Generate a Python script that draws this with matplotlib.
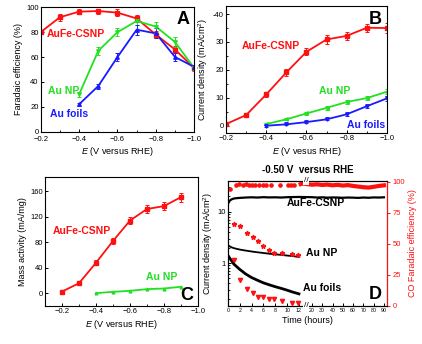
import numpy as np
import matplotlib
matplotlib.use("Agg")
import matplotlib.pyplot as plt
import matplotlib.transforms as mtransforms
from matplotlib.ticker import FixedLocator, NullFormatter, LogLocator

plt.rcParams['font.family'] = ['Liberation Sans', 'DejaVu Sans']
plt.rcParams['mathtext.fontset'] = 'custom'
plt.rcParams['mathtext.it'] = 'Liberation Sans:italic'
plt.rcParams['mathtext.rm'] = 'Liberation Sans'

RED = '#ff1010'
GREEN = '#22e022'
BLUE = '#1a1aff'

# ---- panel A: faradaic efficiency ----
E_a = [-0.2, -0.3, -0.4, -0.5, -0.6, -0.7, -0.8, -0.9, -1.0]
fe_aufe = [80, 92, 96.5, 97, 95.7, 91, 78, 66, 51]
fe_aufe_err = [0, 3, 2, 2, 3, 3, 3, 3, 2]
E_a2 = [-0.4, -0.5, -0.6, -0.7, -0.8, -0.9, -1.0]
fe_aunp = [30, 65, 80, 89, 84.5, 72, 51]
fe_aunp_err = [2, 3, 3, 3, 4, 4, 2]
fe_aufoil = [22, 36.7, 60, 82, 79, 60, 52]
fe_aufoil_err = [1, 2, 3, 4, 4, 3, 2]

# ---- panel B: current density ----
E_b = [-0.2, -0.3, -0.4, -0.5, -0.6, -0.7, -0.8, -0.9, -1.0]
j_aufe = [0.6, 3.8, 11.2, 19.1, 26.5, 30.9, 32.2, 35.1, 35.0]
j_aufe_err = [0.4, 0.6, 1.0, 1.2, 1.2, 1.5, 1.5, 1.5, 1.8]
E_b2 = [-0.4, -0.5, -0.6, -0.7, -0.8, -0.9, -1.0]
j_aunp = [0.6, 2.3, 4.4, 6.4, 8.5, 9.9, 12.2]
j_aunp_err = [0.3, 0.4, 0.5, 0.6, 0.8, 0.8, 1.0]
j_aufoil = [0.0, 0.5, 1.3, 2.3, 4.1, 7.0, 9.8]
j_aufoil_err = [0.3, 0.3, 0.4, 0.4, 0.5, 0.6, 0.9]
b_ticks = [0, 10, 20, 30, 40]
b_ticklabels = ['0', '10', '20', '30', '-40']

# ---- panel C: mass activity ----
E_c = [-0.2, -0.3, -0.4, -0.5, -0.6, -0.7, -0.8, -0.9]
ma_aufe = [3, 16, 48, 82, 114, 132, 136.5, 150.6]
ma_aufe_err = [1, 2, 4, 4, 5, 6, 6, 7]
E_c2 = [-0.4, -0.5, -0.6, -0.7, -0.8, -0.9]
ma_aunp = [0.5, 2.6, 4.2, 6.8, 7.8, 10.5]

# ---- panel D: stability at -0.50 V ----
t_aufe = [0, 0.3, 0.6, 1, 1.5, 2, 3, 4, 5, 6, 7, 8, 9, 10, 11, 12,
          20, 25, 30, 35, 40, 45, 50, 55, 60, 65, 70, 75, 80, 85, 90]
jd_aufe = [14.5, 16.5, 17.5, 18.2, 18.5, 18.7, 19.0, 19.2, 19.0, 19.3, 19.1, 19.2, 19.0, 19.3, 19.4, 19.5,
           19.3, 19.0, 19.2, 18.9, 19.1, 19.0, 18.8, 19.0, 18.9, 18.7, 19.0, 18.8, 19.1, 19.0, 19.2]
t_np = [0, 0.5, 1, 2, 3, 4, 5, 6, 7, 8, 9, 10, 11, 12]
jd_aunp = [2.22, 2.05, 1.95, 1.83, 1.75, 1.68, 1.62, 1.57, 1.52, 1.48, 1.44, 1.40, 1.36, 1.32]
jd_aufoil = [1.4, 1.15, 0.95, 0.75, 0.61, 0.52, 0.46, 0.41, 0.375, 0.345, 0.32, 0.295, 0.27, 0.25]

tf_aufe = [0.33, 1.35, 1.9, 2.5, 3.0, 3.5, 4.0, 4.6, 5.2, 5.85, 6.4, 7.3, 8.8, 10.2, 10.6, 11.2]
fe_d_aufe = [94.4, 97.3, 97.9, 97.6, 97.9, 97.6, 97.3, 97.6, 97.3, 97.1, 97.3, 97.1, 97.1, 97.1, 97.3, 97.6]
tf_aufe2 = [12.3, 12.8, 20, 25, 30, 35, 40, 45, 50, 55, 60, 65, 70, 75, 80, 85, 90]
fe_d_aufe2 = [98, 98.5, 97.5, 97.8, 97.3, 97.6, 97.0, 97.4, 96.8, 97.2, 96.5, 96.0, 95.5, 95.2, 95.8, 96.5, 97.0]
tf_np = [1.06, 2.08, 3.2, 4.17, 5.1, 5.86, 6.98, 7.8, 9.2, 10.9, 11.9]
fe_d_aunp = [65.8, 64, 58.6, 55.4, 52, 48, 45.4, 42.6, 42.2, 41.4, 40.8]
fe_d_aufoil = [36.6, 20.6, 13.4, 10.6, 7.2, 7.2, 5.8, 5.4, 4.0, 2.6, 2.2]

fig = plt.figure(figsize=(4.22, 3.44), dpi=100)

lab_fs = 6.5
tick_fs = 5.5
ser_fs = 7.5


def style(ax):
    ax.tick_params(direction='in', labelsize=tick_fs, length=2.5, width=0.7, pad=1.5)
    ax.tick_params(which='minor', direction='in', length=1.5, width=0.6)
    for s in ax.spines.values():
        s.set_linewidth(0.8)


def series(ax, x, y, err, color, marker):
    ax.plot(x, y, color=color, lw=1.3)
    ax.errorbar(x, y, yerr=err, fmt=marker, color=color, ms=2.5, elinewidth=0.7,
                capsize=1.2, capthick=0.7)


# A
axA = fig.add_axes([0.0964, 0.6172, 0.364, 0.3616])
series(axA, E_a, fe_aufe, fe_aufe_err, RED, 's')
series(axA, E_a2, fe_aunp, fe_aunp_err, GREEN, 'v')
series(axA, E_a2, fe_aufoil, fe_aufoil_err, BLUE, '^')
axA.set_xlim(-0.2, -1.0)
axA.set_ylim(0, 100)
axA.set_xticks([-0.2, -0.4, -0.6, -0.8, -1.0])
axA.xaxis.set_minor_locator(FixedLocator([-0.3, -0.5, -0.7, -0.9]))
axA.set_yticks([0, 20, 40, 60, 80, 100])
axA.set_xlabel('$E$ (V versus RHE)', fontsize=lab_fs, labelpad=2)
axA.set_ylabel('Faradaic efficiency (%)', fontsize=lab_fs, labelpad=2)
style(axA)
axA.tick_params(axis='x', pad=2.8)
axA.text(0.04, 0.76, 'AuFe-CSNP', color=RED, fontsize=ser_fs, fontweight='bold', transform=axA.transAxes)
axA.text(0.05, 0.30, 'Au NP', color=GREEN, fontsize=ser_fs, fontweight='bold', transform=axA.transAxes)
axA.text(0.06, 0.12, 'Au foils', color=BLUE, fontsize=ser_fs, fontweight='bold', transform=axA.transAxes)
axA.text(0.97, 0.97, 'A', fontsize=13, fontweight='bold', ha='right', va='top', transform=axA.transAxes)

# B
axB = fig.add_axes([0.5355, 0.6134, 0.3815, 0.370])
series(axB, E_b, j_aufe, j_aufe_err, RED, 's')
series(axB, E_b2, j_aunp, j_aunp_err, GREEN, '<')
series(axB, E_b2, j_aufoil, j_aufoil_err, BLUE, 'v')
axB.set_xlim(-0.2, -1.0)
axB.set_ylim(-2.6, 43)
axB.set_xticks([-0.2, -0.4, -0.6, -0.8, -1.0])
axB.xaxis.set_minor_locator(FixedLocator([-0.3, -0.5, -0.7, -0.9]))
axB.set_yticks(b_ticks)
axB.set_yticklabels(b_ticklabels)
axB.yaxis.set_minor_locator(FixedLocator([5, 15, 25, 35]))
axB.set_xlabel('$E$ (V vesus RHE)', fontsize=lab_fs, labelpad=2)
axB.set_ylabel('Current density (mA/cm$^2$)', fontsize=lab_fs, labelpad=2)
style(axB)
axB.text(0.10, 0.66, 'AuFe-CSNP', color=RED, fontsize=ser_fs, fontweight='bold', transform=axB.transAxes)
axB.text(0.58, 0.31, 'Au NP', color=GREEN, fontsize=ser_fs, fontweight='bold', transform=axB.transAxes)
axB.text(0.75, 0.04, 'Au foils', color=BLUE, fontsize=ser_fs, fontweight='bold', transform=axB.transAxes)
axB.text(0.97, 0.96, 'B', fontsize=13, fontweight='bold', ha='right', va='top', transform=axB.transAxes)

# C
axC = fig.add_axes([0.1066, 0.1096, 0.3626, 0.3759])
series(axC, E_c, ma_aufe, ma_aufe_err, RED, 's')
axC.plot(E_c2, ma_aunp, color=GREEN, lw=1.3, marker='^', ms=2)
axC.set_xlim(-0.1, -1.0)
axC.set_ylim(-20, 182)
axC.set_xticks([-0.2, -0.4, -0.6, -0.8, -1.0])
axC.xaxis.set_minor_locator(FixedLocator([-0.3, -0.5, -0.7, -0.9]))
axC.set_yticks([0, 40, 80, 120, 160])
axC.set_xlabel('$E$ (V versus RHE)', fontsize=lab_fs, labelpad=2)
axC.set_ylabel('Mass activity (mA/mg)', fontsize=lab_fs, labelpad=2)
style(axC)
axC.text(0.05, 0.56, 'AuFe-CSNP', color=RED, fontsize=ser_fs, fontweight='bold', transform=axC.transAxes)
axC.text(0.66, 0.20, 'Au NP', color=GREEN, fontsize=ser_fs, fontweight='bold', transform=axC.transAxes)
axC.text(0.97, 0.02, 'C', fontsize=13, fontweight='bold', ha='right', va='bottom', transform=axC.transAxes)


# D: broken time axis through a piecewise scale
def fwd(t):
    t = np.asarray(t, float)
    return np.where(t <= 12.5, t,
                    np.where(t < 20, 12.5 + (t - 12.5) * 1.7 / 7.5, 14.2 + (t - 20) * 0.174))


def inv(u):
    u = np.asarray(u, float)
    return np.where(u <= 12.5, u,
                    np.where(u < 14.2, 12.5 + (u - 12.5) * 7.5 / 1.7, 20 + (u - 14.2) / 0.174))


axD = fig.add_axes([0.5403, 0.1105, 0.3768, 0.3634])
axD.set_xscale('function', functions=(fwd, inv))
axD.set_yscale('log')
axD.plot(t_aufe, jd_aufe, color='black', lw=1.6)
axD.plot(t_np, jd_aunp, color='black', lw=1.3)
axD.plot(t_np, jd_aufoil, color='black', lw=2.0)
axD.set_xlim(0, 93)
axD.set_ylim(0.145, 40)
axD.set_xticks([0, 2, 4, 6, 8, 10, 12, 20, 30, 40, 50, 60, 70, 80, 90])
axD.set_yticks([1, 10])
axD.set_yticklabels(['1', '10'])
axD.yaxis.set_minor_locator(LogLocator(subs=np.arange(2, 10)))
axD.yaxis.set_minor_formatter(NullFormatter())
axD.set_xlabel('Time (hours)', fontsize=lab_fs, labelpad=2)
axD.set_ylabel('Current density (mA/cm$^2$)', fontsize=lab_fs, labelpad=2)
style(axD)
axD.tick_params(axis='x', labelsize=3.8)
axD.text(0.37, 0.80, 'AuFe-CSNP', color='black', fontsize=ser_fs, fontweight='bold', transform=axD.transAxes)
axD.text(0.49, 0.40, 'Au NP', color='black', fontsize=ser_fs, fontweight='bold', transform=axD.transAxes)
axD.text(0.47, 0.12, 'Au foils', color='black', fontsize=ser_fs, fontweight='bold', transform=axD.transAxes)
axD.text(0.97, 0.02, 'D', fontsize=13, fontweight='bold', ha='right', va='bottom', transform=axD.transAxes)
axD.set_title('-0.50 V  versus RHE', fontsize=7, fontweight='bold', pad=6)

axD2 = axD.twinx()
axD2.plot(tf_aufe, fe_d_aufe, 'o', color=RED, ms=2.3)
axD2.plot(tf_aufe2, fe_d_aufe2, '-', color=RED, lw=3.0)
axD2.plot(tf_np, fe_d_aunp, '*', color=RED, ms=3.5)
axD2.plot(tf_np, fe_d_aufoil, 'v', color=RED, ms=3)
axD2.set_ylim(0, 100.5)
axD2.set_yticks([0, 25, 50, 75, 100])
axD2.set_ylabel('CO Faradaic efficiency (%)', fontsize=lab_fs, color=RED, labelpad=2)
axD2.tick_params(direction='out', labelsize=tick_fs, length=2.5, width=0.7, pad=1.5,
                 colors=RED)
axD2.spines['right'].set_color(RED)
axD2.spines['right'].set_linewidth(0.8)

trans = mtransforms.blended_transform_factory(axD.transData, axD.transAxes)
for yy in (0.0, 1.0):
    axD2.text(15.6, yy, '//', transform=trans, ha='center', va='center', fontsize=6,
              bbox=dict(facecolor='white', edgecolor='none', pad=0.3), zorder=10)

fig.savefig('out.png', dpi=100)
